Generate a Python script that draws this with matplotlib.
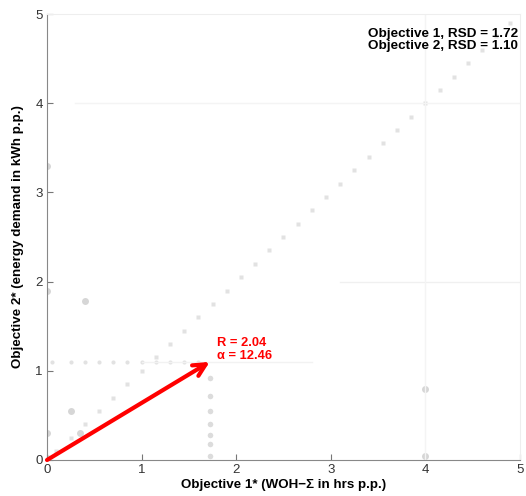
import numpy as np
import matplotlib
matplotlib.use('Agg')
import matplotlib.pyplot as plt

plt.rcParams['font.family'] = ['Liberation Sans', 'DejaVu Sans']

# faint background solutions
diag_pts = [0.1, 0.25, 0.4, 0.55, 0.7, 0.85, 1.0, 1.15, 1.3, 1.45, 1.6, 1.75, 1.9,
            2.05, 2.2, 2.35, 2.5, 2.65, 2.8, 2.95, 3.1, 3.25, 3.4, 3.55, 3.7, 3.85,
            4.0, 4.15, 4.3, 4.45, 4.6, 4.75, 4.9]
row_x = [0.05, 0.25, 0.4, 0.55, 0.7, 0.85, 1.0, 1.15, 1.3, 1.45, 1.6]
row_y = 1.1
col_y = [0.92, 0.72, 0.55, 0.4, 0.28, 0.18, 0.05]
col_x = 1.72
other_x = [0.0, 0.0, 0.0, 0.4, 0.25, 0.35, 4.0, 4.0, 0.0]
other_y = [1.9, 0.3, 3.3, 1.78, 0.55, 0.3, 0.8, 0.05, 0.02]

# resultant vector
obj1 = 1.72
obj2 = 1.10
R = 2.04
alpha = 12.46
rsd = [1.72, 1.10]

fig = plt.figure(figsize=(5.26, 4.96), dpi=100)
ax = fig.add_axes([0.0894, 0.0726, 0.899, 0.899])

grey = '#e2e2e2'
ax.plot(diag_pts, diag_pts, 's', color=grey, ms=2.5, mec='none')
ax.plot(row_x, [row_y] * len(row_x), 'o', color=grey, ms=3, mec='none')
ax.plot([col_x] * len(col_y), col_y, 'o', color='#dcdcdc', ms=4, mec='none')
ax.plot(other_x, other_y, 'o', color='#d6d6d6', ms=5, mec='none')
ax.plot([0.3, 5.0], [4.0, 4.0], color='#f4f4f4', lw=1)
ax.plot([3.1, 5.0], [2.0, 2.0], color='#f0f0f0', lw=1)
ax.plot([4.0, 4.0], [0.0, 5.0], color='#f4f4f4', lw=1)
ax.plot([1.0, 2.8], [1.1, 1.1], color='#f2f2f2', lw=1)

ax.annotate('', xy=(obj1, obj2), xytext=(0, 0),
            arrowprops=dict(arrowstyle='->', color='red', lw=3,
                            mutation_scale=22, shrinkA=0, shrinkB=0))
ax.text(1.8, 1.10, f'R = {R:.2f}\n\u03b1 = {alpha:.2f}', color='red',
        fontsize=9.3, fontweight='bold', va='bottom', ha='left', linespacing=1.1)
ax.text(4.98, 4.57,
        f'Objective 1, RSD = {rsd[0]:.2f}\nObjective 2, RSD = {rsd[1]:.2f}',
        fontsize=9.7, fontweight='bold', ha='right', va='bottom', linespacing=1.05)

ax.set_xlim(0, 5)
ax.set_ylim(0, 5)
ax.set_xticks([0, 1, 2, 3, 4, 5])
ax.set_yticks([0, 1, 2, 3, 4, 5])
ax.tick_params(direction='in', length=4, color='#777777', labelsize=9.5,
               labelcolor='#333333', pad=3)
for s in ['left', 'bottom']:
    ax.spines[s].set_color('#888888')
for s in ['top', 'right']:
    ax.spines[s].set_color('#eeeeee')

ax.set_xlabel('Objective 1* (WOH\u2212\u03a3 in hrs p.p.)', fontsize=9.6,
              fontweight='bold', labelpad=2)
ax.set_ylabel('Objective 2* (energy demand in kWh p.p.)', fontsize=9.6,
              fontweight='bold', labelpad=8)

fig.savefig('out.png', dpi=100)
